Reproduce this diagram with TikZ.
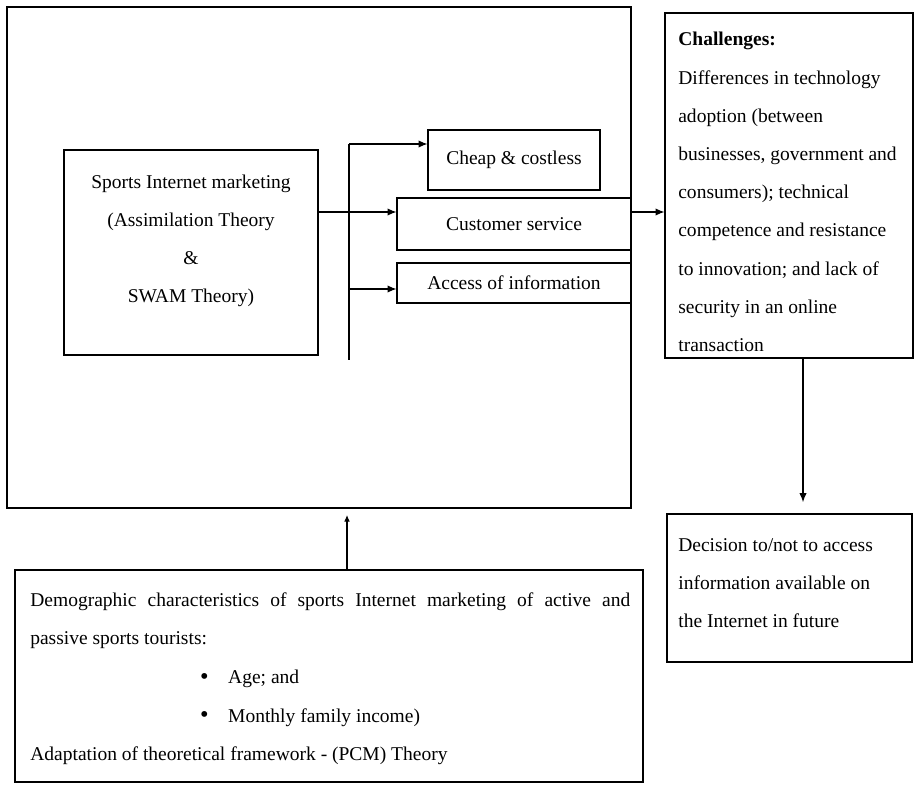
\documentclass[tikz,border=0pt]{standalone}
\usepackage{fontspec}
\setmainfont{Liberation Serif}
\usetikzlibrary{arrows.meta,fit}

\tikzset{
    box/.style={draw, line width=0.65pt, inner sep=0pt},
    txt/.style={inner sep=0pt, font=\fontsize{12}{23.5}\selectfont},
    link/.style={line width=0.65pt, -{Latex[length=5.5pt,width=4.5pt]}}
}
\newcommand{\itembullet}{\makebox[17.2pt][l]{\raisebox{-0.5pt}{\fontsize{15}{15}\selectfont\textbullet}}}

\begin{document}
\begin{tikzpicture}[x=0.615pt, y=-0.615pt]
    \useasboundingbox (0,0) rectangle (916,791);

    % outer frame
    \node[box, fit={(7,7) (631,508)}] (frame) {};

    % main box
    \node[box, fit={(64,150) (318,355)}] (mainbox) {};
    \node[txt, anchor=north, align=center, font=\fontsize{12}{23.2}\selectfont] (maintxt) at (191,175)
        {Sports Internet marketing\\(Assimilation Theory\\\&\\SWAM Theory)};

    % bus line
    \coordinate (bustop) at (349,144);
    \coordinate (busbot) at (349,360);
    \draw[line width=0.65pt] (bustop) -- (busbot);

    % three boxes
    \node[box, fit={(428,130) (600,190)}] (cheap) {};
    \node[txt] (cheaptxt) at (cheap.center) {Cheap \& costless};
    \node[box, fit={(397,198) (631,250)}] (cust) {};
    \node[txt] (custtxt) at (cust.center) {Customer service};
    \node[box, fit={(397,263) (631,303)}] (access) {};
    \node[txt] (accesstxt) at (access.center) {Access of information};

    % arrows to the boxes
    \coordinate (row) at (0,212);
    \coordinate (accrow) at (0,289);
    \draw[link] (bustop) -- (bustop -| cheap.west);
    \draw[link] (mainbox.east |- row) -- (cust.west |- row);
    \draw[link] (busbot |- accrow) -- (access.west |- accrow);

    % challenges
    \node[box, fit={(665,13) (913,358)}] (chal) {};
    \node[txt, anchor=north west, align=left] (chaltxt) at (678,32)
        {\textbf{Challenges:}\\Differences in technology\\adoption (between\\businesses, government and\\consumers); technical\\competence and resistance\\to innovation; and lack of\\security in an online\\transaction};
    \draw[link] (frame.east |- row) -- (chal.west |- row);

    % decision
    \coordinate (downx) at (803,0);
    \node[box, fit={(667,514) (912,662)}] (decision) {};
    \node[txt, anchor=north west, align=left] (decisiontxt) at (678,538)
        {Decision to/not to access\\information available on\\the Internet in future};
    \draw[link, shorten >=7pt] (chal.south -| downx) -- (decision.north -| downx);

    % demographic box
    \coordinate (upx) at (347,0);
    \node[box, fit={(15,570) (643,782)}] (demo) {};
    \node[txt, anchor=north west, text width=369pt, align=justify, font=\fontsize{12}{23.8}\selectfont] (demotxt) at (30,592)
        {Demographic characteristics of sports Internet marketing of active and\linebreak
         passive sports tourists:\\
         \hspace*{104.5pt}\itembullet Age; and\\
         \hspace*{104.5pt}\itembullet Monthly family income)\\
         Adaptation of theoretical framework - (PCM) Theory};
    \draw[link, -{Latex[length=4pt,width=3.5pt]}, shorten >=4pt] (demo.north -| upx) -- (frame.south -| upx);
\end{tikzpicture}
\end{document}
